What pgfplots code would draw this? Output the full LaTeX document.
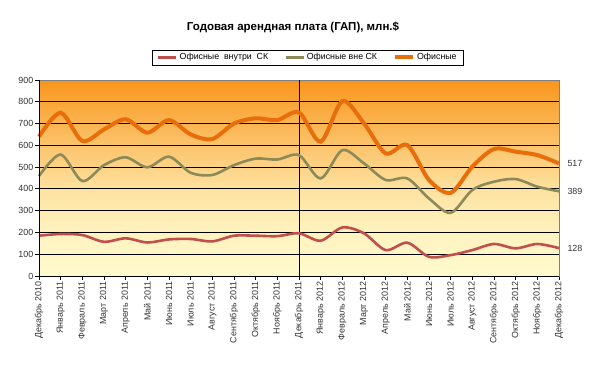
\documentclass[border=0pt]{standalone}
\usepackage{pgfplots}
\pgfplotsset{compat=1.18}
\usepackage{fontspec}
\setmainfont{Liberation Sans}
\definecolor{cred}{RGB}{192,80,77}
\definecolor{colive}{RGB}{140,138,88}
\definecolor{corange}{RGB}{232,110,12}
\definecolor{bgtop}{RGB}{248,150,28}
\definecolor{bgmid}{RGB}{254,226,160}
\definecolor{bglow}{RGB}{255,250,205}
\definecolor{bgbot}{RGB}{255,252,210}
\begin{document}
\begin{tikzpicture}[x=1pt,y=1pt]
\fill[bottom color=bglow, top color=bgmid, middle color=bglow!70!bgmid] (39,92) rectangle (559,179.11);
\fill[bottom color=bgmid, top color=bgtop] (39,179.11) rectangle (559,288);
\begin{axis}[
  at={(39pt,92pt)}, anchor=south west,
  scale only axis, width=520pt, height=196pt,
  xmin=0, xmax=24, ymin=0, ymax=900,
  ytick={0,100,...,900},
  xtick={0,...,24},
  xticklabels={Декабрь 2010,Январь 2011,Февраль 2011,Март 2011,Апрель 2011,Май 2011,Июнь 2011,Июль 2011,Август 2011,Сентябрь 2011,Октябрь 2011,Ноябрь 2011,Декабрь 2011,Январь 2012,Февраль 2012,Март 2012,Апрель 2012,Май 2012,Июнь 2012,Июль 2012,Август 2012,Сентябрь 2012,Октябрь 2012,Ноябрь 2012,Декабрь 2012},
  x tick label style={rotate=90, anchor=east, font=\fontsize{8.9}{10}\selectfont, text=black!80, inner sep=2pt},
  y tick label style={font=\fontsize{8.9}{10}\selectfont, text=black!80, inner sep=2pt},
  /pgf/number format/assume math mode=true,
  xtick pos=bottom, ytick pos=left,
  tick align=outside, major tick length=3.5pt,
  tick style={black, line width=0.8pt},
  ymajorgrids, major grid style={black, line width=0.8pt},
  axis line style={draw=gray, line width=0.8pt},
  legend style={at={(0.517,1.115)}, anchor=center, draw=black, line width=0.8pt,
    font=\fontsize{8.8}{10}\selectfont, inner xsep=5pt, inner ysep=1.5pt,
    /tikz/every even column/.append style={column sep=14pt}},
  legend columns=-1,
  legend image code/.code={\draw[#1] (0pt,0pt) -- (18pt,0pt);},
  clip=false,
]
\addplot[black, line width=1pt, forget plot] coordinates {(12,0) (12,900)};
\addplot[cred, line width=2.6pt, smooth, tension=0.5] coordinates {
(0,185) (1,193) (2,188) (3,157) (4,173) (5,154) (6,168) (7,170) (8,159) (9,185) (10,185) (11,183) (12,196)
(13,162) (14,223) (15,196) (16,119) (17,153) (18,88) (19,96) (20,119) (21,147) (22,127) (23,147) (24,128)};
\addlegendentry{Офисные\ \ внутри\ \ СК}
\addplot[colive, line width=2.6pt, smooth, tension=0.5] coordinates {
(0,459) (1,558) (2,436) (3,509) (4,545) (5,499) (6,548) (7,474) (8,464) (9,509) (10,539) (11,535) (12,555)
(13,448) (14,578) (15,517) (16,441) (17,448) (18,356) (19,290) (20,395) (21,433) (22,445) (23,410) (24,389)};
\addlegendentry{Офисные вне СК}
\addplot[corange, line width=4pt, smooth, tension=0.5] coordinates {
(0,640) (1,750) (2,620) (3,673) (4,720) (5,658) (6,716) (7,650) (8,629) (9,700) (10,724) (11,716) (12,751)
(13,617) (14,803) (15,701) (16,563) (17,601) (18,441) (19,382) (20,502) (21,583) (22,571) (23,555) (24,517)};
\addlegendentry{Офисные}
\draw[black, line width=0.8pt] (rel axis cs:0,0) -- (rel axis cs:0,1);
\draw[black, line width=0.8pt] (rel axis cs:0,0) -- (rel axis cs:1,0);
\node[anchor=west, font=\fontsize{8.9}{10}\selectfont, text=black!80] at (axis cs:24,517) {\hspace{5pt}517};
\node[anchor=west, font=\fontsize{8.9}{10}\selectfont, text=black!80] at (axis cs:24,389) {\hspace{5pt}389};
\node[anchor=west, font=\fontsize{8.9}{10}\selectfont, text=black!80] at (axis cs:24,128) {\hspace{5pt}128};
\end{axis}
\node[font=\bfseries\fontsize{11.5}{13}\selectfont] at (293,341) {Годовая арендная плата (ГАП), млн.\$};
\pgfresetboundingbox
\useasboundingbox (0,0) rectangle (600,368);
\end{tikzpicture}
\end{document}
